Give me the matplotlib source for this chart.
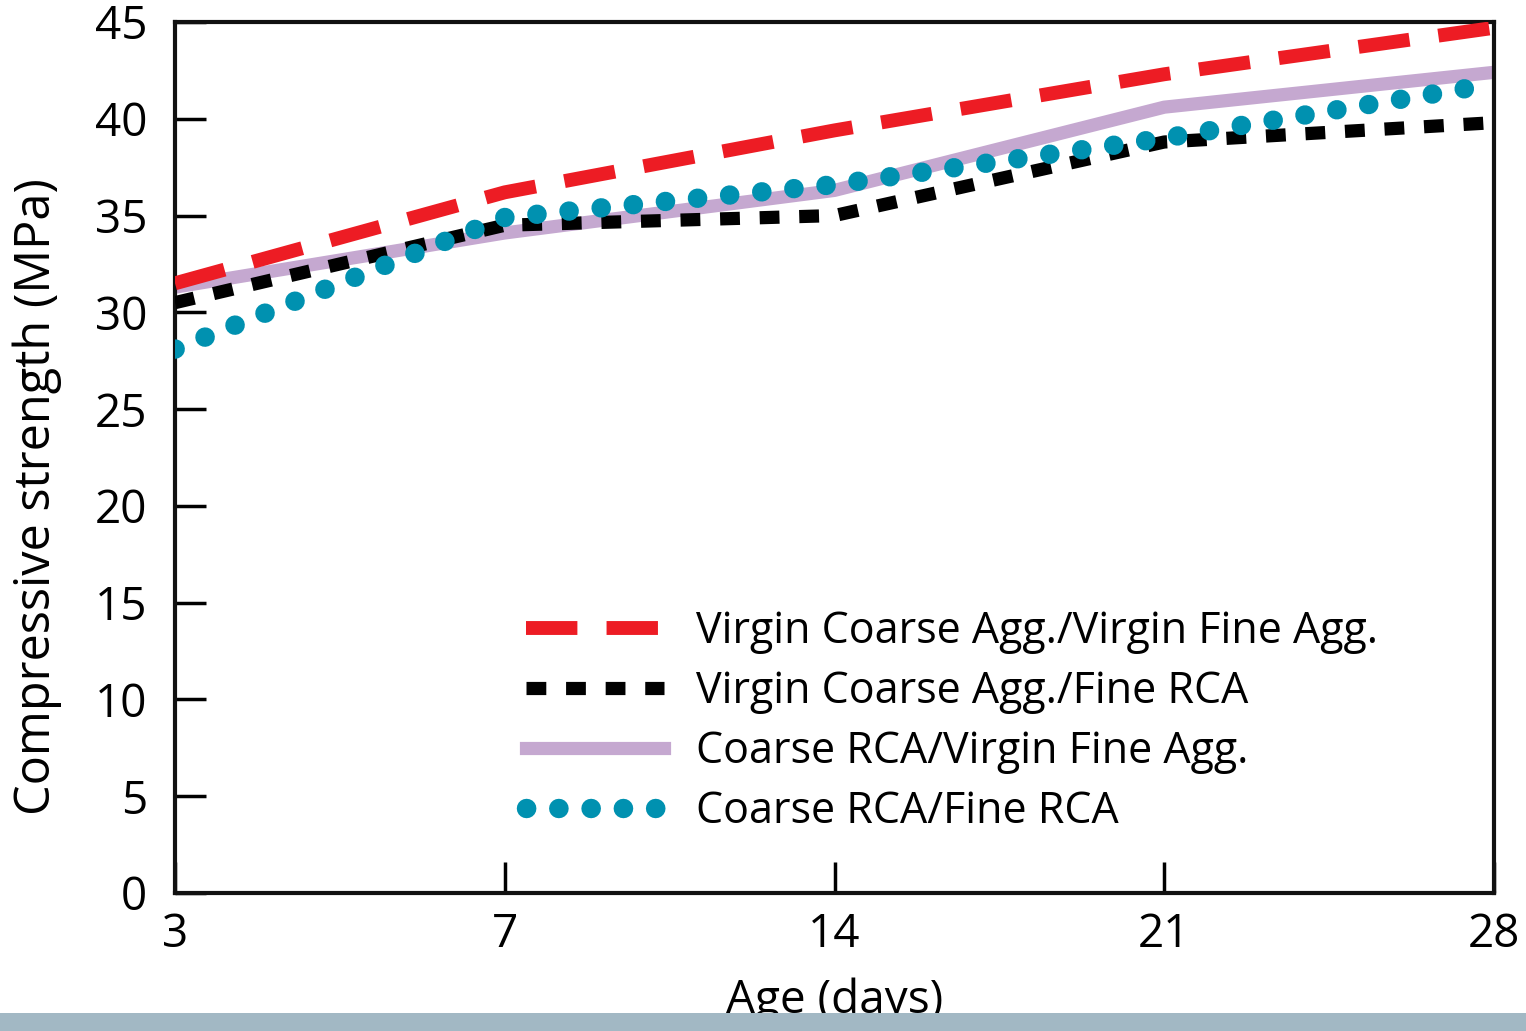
import numpy as np
import matplotlib
matplotlib.use("Agg")
import matplotlib.pyplot as plt
from matplotlib.patches import Rectangle

plt.rcParams['font.family'] = ['Open Sans', 'DejaVu Sans']

# data
age_labels = ["3", "7", "14", "21", "28"]
virgin_virgin = [31.5, 36.2, 39.4, 42.3, 44.7]
virgin_fine_rca = [30.5, 34.5, 35.0, 38.8, 39.8]
rca_virgin_fine = [31.3, 34.1, 36.3, 40.6, 42.4]
rca_rca = [28.1, 34.9, 36.6, 39.0, 41.8]

series_names = [
    "Virgin Coarse Agg./Virgin Fine Agg.",
    "Virgin Coarse Agg./Fine RCA",
    "Coarse RCA/Virgin Fine Agg.",
    "Coarse RCA/Fine RCA",
]

x = np.arange(len(age_labels))

fig = plt.figure(figsize=(15.26, 10.31), dpi=100)
ax = fig.add_axes([175 / 1526, 1 - 893 / 1031, (1494 - 175) / 1526, (893 - 22) / 1031])

ax.plot(x, virgin_virgin, color="#ED1C24", lw=10, linestyle=(0, (3.7, 2.1)),
        dash_capstyle="butt", label=series_names[0], zorder=3)
ax.plot(x, virgin_fine_rca, color="black", lw=9.5, linestyle=(0, (1.5, 1.5)),
        dash_capstyle="butt", label=series_names[1], zorder=3)
ax.plot(x, rca_virgin_fine, color="#C5A8D0", lw=9.5, linestyle="-",
        label=series_names[2], zorder=2)
ax.plot(x, rca_rca, color="#0091B0", lw=14, linestyle=(0, (0.01, 1.65)),
        dash_capstyle="round", label=series_names[3], zorder=4)

ax.set_xlim(0, len(age_labels) - 1)
ax.set_ylim(0, 45)
ax.set_xticks(x)
ax.set_xticklabels(age_labels)
ax.set_yticks(np.arange(0, 46, 5))

for s in ax.spines.values():
    s.set_linewidth(3)
    s.set_color("#111111")

ax.tick_params(axis="both", direction="in", length=22, width=2.5, labelsize=33,
               color="black")
ax.tick_params(axis="y", pad=20)
ax.tick_params(axis="x", pad=14)

ax.set_ylabel("Compressive strength (MPa)", fontsize=35)
ax.yaxis.set_label_coords(-0.086, 0.455)
ax.set_xlabel("Age (days)", fontsize=33, labelpad=14)

ax.legend(loc="upper left", bbox_to_anchor=(0.237, 0.37), frameon=False,
          fontsize=31, handlelength=3.2, handletextpad=0.75, labelspacing=0.36)

# grey strip along the bottom of the page
fig.patches.append(Rectangle((0, 0), 1, 18 / 1031, transform=fig.transFigure,
                             facecolor="#A2B8C4", edgecolor="none", zorder=10))

fig.savefig("out.png", dpi=100)
